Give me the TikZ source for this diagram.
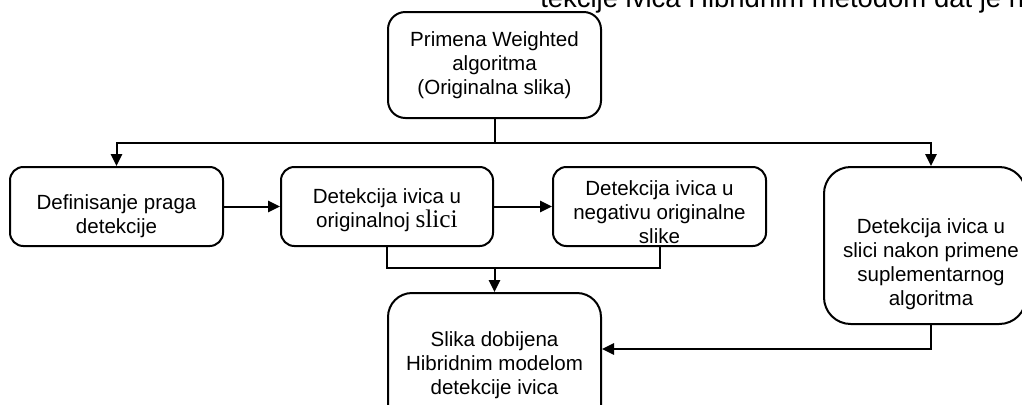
\documentclass[tikz,border=0pt]{standalone}
\usepackage{fontspec}
\setmainfont{Liberation Sans}
\newfontfamily\serifslici{Liberation Serif}
\usetikzlibrary{arrows.meta,calc}
\tikzset{
  box/.style={draw, line width=1.5pt, inner sep=0pt},
  txt/.style={align=center, inner sep=0pt, font=\fontsize{15.4}{18}\selectfont},
  line/.style={line width=1.5pt},
  arrow/.style={line width=1.5pt, -{Triangle[length=9pt,width=8.5pt]}},
}
\begin{document}
\begin{tikzpicture}[x=0.75pt,y=-0.75pt]
\useasboundingbox (0,0) rectangle (1022,404);
\clip (0,0) rectangle (1022,404);
\node[anchor=base west, inner sep=0pt, font=\fontsize{20.6}{24}\selectfont] (hdr) at (540,7)
  {tekcije ivica Hibridnim metodom dat je na};
\node[box, rounded corners=13pt, minimum width=213*0.75pt, minimum height=106*0.75pt,
  label={[txt]center:Primena Weighted\\algoritma\\(Originalna slika)}] (top) at (494.5,65) {};
\node[box, rounded corners=10pt, minimum width=213*0.75pt, minimum height=79*0.75pt,
  label={[txt, yshift=-7pt]center:Definisanje praga\\detekcije}] (b1) at (116.5,206.5) {};
\node[box, rounded corners=10pt, minimum width=212*0.75pt, minimum height=79*0.75pt,
  label={[txt, yshift=-3pt]center:Detekcija ivica u\\originalnoj {\serifslici\fontsize{19}{18}\selectfont slici}}] (b2) at (387,206.5) {};
\node[box, rounded corners=10pt, minimum width=213*0.75pt, minimum height=79*0.75pt,
  label={[txt, yshift=-4pt]center:Detekcija ivica u\\negativu originalne\\slike}] (b3) at (659.5,206.5) {};
\node[box, rounded corners=20pt, minimum width=202*0.75pt, minimum height=157*0.75pt,
  label={[txt, xshift=4.5pt, yshift=-14pt]center:Detekcija ivica u\\slici nakon primene\\suplementarnog\\algoritma}] (b4) at (925,245.5) {};
\node[box, rounded corners=18pt, minimum width=213*0.75pt, minimum height=140*0.75pt,
  label={[txt, yshift=-2pt]center:Slika dobijena\\Hibridnim modelom\\detekcije ivica}] (b5) at (494.5,363) {};
\coordinate (split) at (494.5,143);
\coordinate (merge) at (494.5,268);
\draw[line] (top.south) -- (split);
\draw[arrow] (split) -| (b1.north);
\draw[arrow] (split) -| ($(b4.north)+(6,0)$);
\draw[arrow] (b1.east) -- (b2.west);
\draw[arrow] (b2.east) -- (b3.west);
\draw[line] (b2.south) |- (merge) -| (b3.south);
\draw[arrow] (merge) -- (b5.north);
\draw[arrow] ($(b4.south)+(6,0)$) |- ($(b5.east)+(0,-14)$);
\end{tikzpicture}
\end{document}
